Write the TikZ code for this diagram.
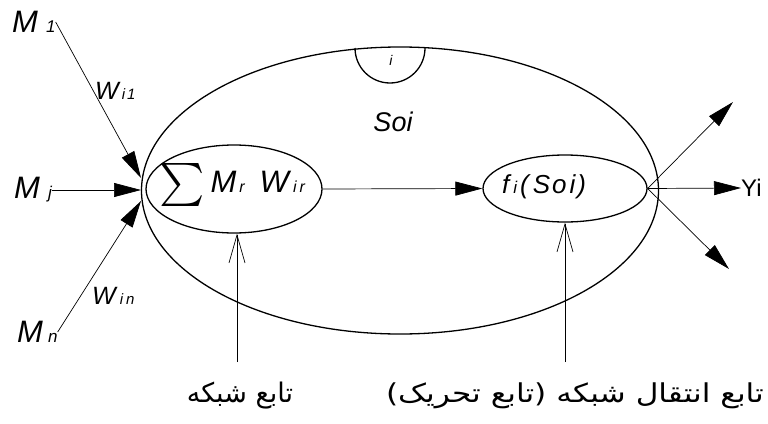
\documentclass[tikz,border=0pt]{standalone}
\usepackage{fontspec}
\usepackage{graphicx}
\setmainfont{Liberation Sans}
\newfontfamily\arabicfont[Script=Arabic]{DejaVu Sans}
\TeXXeTstate=1
\usetikzlibrary{shapes.geometric,arrows.meta,calc}
\newcommand{\msub}[5]{{\fontsize{#1}{#1}\selectfont\itshape #2}\hspace{#5}{\fontsize{#3}{#3}\selectfont\itshape #4}}
\tikzset{
  lab/.style={inner sep=0pt, anchor=center},
  ell/.style={draw, ellipse, inner sep=0pt, line width=1.3pt},
  conn/.style={line width=0.7pt},
  filled/.style={conn, -{Triangle[length=27pt,width=14pt]}},
  barb/.style={conn, -{Straight Barb[length=28pt,width=16pt,line width=0.7pt]}},
  fa/.style={inner sep=0pt, font=\arabicfont},
}
\begin{document}
\begin{tikzpicture}[x=1pt,y=-1pt]
\useasboundingbox (0,0) rectangle (768,423);
% ellipses
\node[ell, minimum width=517pt, minimum height=287pt] (outer) at (400,190.5) {};
\node[ell, minimum width=176pt, minimum height=88pt] (sum) at (234,189) {};
\node[ell, minimum width=164pt, minimum height=67pt] (fn) at (565,188.5) {};
% semicircle
\draw[line width=1.3pt] (355,48) arc[start angle=180, end angle=0, radius=35];
\node[lab] (ilab) at (391,60) {\fontsize{14}{14}\selectfont\itshape i};
\node[lab] (soi) at (393,122) {\fontsize{27}{27}\selectfont\itshape Soi};
% texts in ellipses
\node[lab, anchor=west] (sumtext) at (159,185) {\raisebox{-3pt}{\scalebox{4.3}{$\sum$}}\hspace{6pt}\msub{31}{M}{16}{r}{3pt}\hspace{15pt}\msub{31}{W}{16}{i\hspace{3pt}r}{4pt}};
\node[lab, anchor=west] (fntext) at (502,187) {\fontsize{26}{26}\selectfont\itshape f\hspace{4pt}{\fontsize{17}{17}\selectfont i}\hspace{3pt}(\hspace{4pt}S\hspace{2pt}o\hspace{3pt}i\hspace{2pt})};
% input labels
\node[lab, anchor=west] (m1) at (12,22) {\msub{31}{M}{17}{1}{8pt}};
\node[lab, anchor=west] (mj) at (14,190) {\msub{31}{M}{17}{j}{8pt}};
\node[lab, anchor=west] (mn) at (17,332) {\msub{31}{M}{17}{n}{5pt}};
\node[lab, anchor=west] (w1) at (95,91) {\msub{25}{W}{15}{i\hspace{2pt}1}{3pt}};
\node[lab, anchor=west] (wn) at (92,296) {\msub{25}{W}{15}{i\hspace{3pt}n}{4pt}};
\coordinate (in1) at (141,178);
\coordinate (inj) at (141,190);
\coordinate (inn) at (141,201);
\draw[filled] (m1.east) -- (in1);
\draw[filled] (mj.east) -- (inj);
\draw[filled] (mn.east) -- (inn);
% middle arrow
\draw[filled] (sum.east) -- (fn.west);
% outputs
\node[lab, anchor=west] (yi) at (741,188) {\fontsize{24}{24}\selectfont Yi};
\coordinate (oup) at (733,102);
\coordinate (odn) at (729,269);
\draw[filled] (fn.east) -- (oup);
\draw[filled] (fn.east) -- (yi.west);
\draw[filled] (fn.east) -- (odn);
% bottom labels and arrows
\coordinate (b1) at (237,362);
\coordinate (b2) at (565,362);
\draw[barb] (b1) -- (b1 |- sum.south);
\draw[barb] (b2) -- (fn.south);
\node[fa] (t1) at (240,396) {\fontsize{27}{27}\selectfont\beginR تابع شبکه\endR};
\node[fa] (t2) at (575,396) {\scalebox{1.2}[1]{\fontsize{26}{26}\selectfont\beginR تابع انتقال شبکه (تابع تحریک)\endR}};
\end{tikzpicture}
\end{document}
